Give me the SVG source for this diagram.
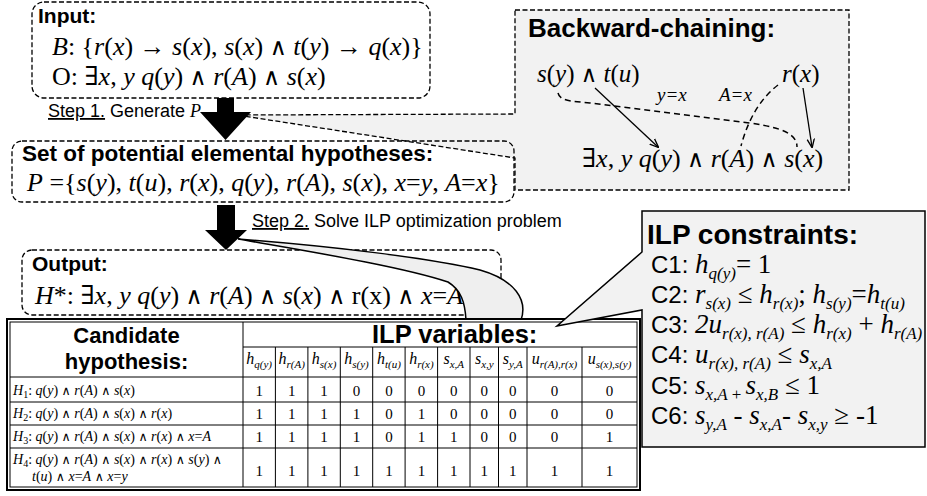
<svg xmlns="http://www.w3.org/2000/svg" width="927" height="496" viewBox="0 0 927 496">
<style>
.box{fill:none;stroke:#000;stroke-width:1.3;stroke-dasharray:5 2.5}
.sans{font-family:"Liberation Sans",Arial,sans-serif}
.b{font-family:"Liberation Sans",Arial,sans-serif;font-weight:bold}
.m{font-family:"Liberation Serif","Times New Roman","DejaVu Serif",serif}
.i{font-style:italic}
.n{font-style:normal}
.w{font-family:"DejaVu Serif",serif;font-size:0.9em;font-style:normal}
.s{font-size:17px;font-style:italic}
.hs{font-size:11px;font-style:italic}
.v{font-family:"Liberation Serif","Times New Roman",serif;font-size:15px;text-anchor:middle}
.hd{font-family:"Liberation Serif","Times New Roman",serif;font-size:16px;font-style:italic;text-anchor:middle}
.row{font-family:"Liberation Serif","Times New Roman","DejaVu Serif",serif;font-size:14px}
.tl{stroke:#000;stroke-width:1}
.dl{fill:none;stroke:#000;stroke-width:1.5;stroke-dasharray:6 4}
.sl{fill:none;stroke:#000;stroke-width:1.3}
</style>
<defs>
<marker id="ah" viewBox="0 0 10 10" refX="9" refY="5" markerWidth="9" markerHeight="9" orient="auto" markerUnits="userSpaceOnUse">
<path d="M0,1 L10,5 L0,9" fill="none" stroke="#000" stroke-width="1.5"/>
</marker>
</defs>
<rect width="927" height="496" fill="#fff"/>

<g id="backward">
<path d="M515,10 H849 V190 H515 V158 L237,115 L515,114 Z" fill="#f2f2f2" stroke="#000" stroke-width="1.3" stroke-dasharray="5 2.5"/>
<text x="528" y="37" class="b" font-size="26">Backward-chaining:</text>
<text x="537" y="82" class="m" font-size="25"><tspan class="i">s</tspan>(<tspan class="i">y</tspan>) <tspan class="w">∧</tspan> <tspan class="i">t</tspan>(<tspan class="i">u</tspan>)</text>
<text x="782" y="82" class="m" font-size="25"><tspan class="i">r</tspan>(<tspan class="i">x</tspan>)</text>
<text x="657" y="101" class="m i" font-size="19">y=x</text>
<text x="719" y="101" class="m i" font-size="19">A=x</text>
<text x="582" y="167" class="m" font-size="26">∃<tspan class="i">x</tspan>, <tspan class="i">y</tspan> <tspan class="i">q</tspan>(<tspan class="i">y</tspan>) <tspan class="w">∧</tspan> <tspan class="i">r</tspan>(<tspan class="i">A</tspan>) <tspan class="w">∧</tspan> <tspan class="i">s</tspan>(<tspan class="i">x</tspan>)</text>
<path class="dl" d="M558,93 C560,101 570,101 590,103 L750,123 C785,128 797,135 797,147"/>
<path class="dl" d="M778,85 Q752,105 741,146"/>
<path class="sl" d="M595,88 L658,147" marker-end="url(#ah)"/>
<path class="sl" d="M803,88 L812,147" marker-end="url(#ah)"/>
</g>

<g id="input">
<rect x="32" y="2" width="398" height="96" rx="12" class="box" style="fill:#fff"/>
<text x="38" y="23" class="b" font-size="21">Input:</text>
<text x="52" y="55" class="m" font-size="26"><tspan class="i">B</tspan>: {<tspan class="i">r</tspan>(<tspan class="i">x</tspan>) → <tspan class="i">s</tspan>(<tspan class="i">x</tspan>), <tspan class="i">s</tspan>(<tspan class="i">x</tspan>) <tspan class="w">∧</tspan> <tspan class="i">t</tspan>(<tspan class="i">y</tspan>) → <tspan class="i">q</tspan>(<tspan class="i">x</tspan>)}</text>
<text x="52" y="85" class="m" font-size="26">O: ∃<tspan class="i">x</tspan>, <tspan class="i">y</tspan> <tspan class="i">q</tspan>(<tspan class="i">y</tspan>) <tspan class="w">∧</tspan> <tspan class="i">r</tspan>(<tspan class="i">A</tspan>) <tspan class="w">∧</tspan> <tspan class="i">s</tspan>(<tspan class="i">x</tspan>)</text>
</g>

<g id="set">
<rect x="12" y="141" width="502" height="61" rx="10" class="box"/>
<text x="22" y="161" class="b" font-size="22.5">Set of potential elemental hypotheses:</text>
<text x="27" y="191" class="m" font-size="26"><tspan class="i">P</tspan> ={<tspan class="i">s</tspan>(<tspan class="i">y</tspan>), <tspan class="i">t</tspan>(<tspan class="i">u</tspan>), <tspan class="i">r</tspan>(<tspan class="i">x</tspan>), <tspan class="i">q</tspan>(<tspan class="i">y</tspan>), <tspan class="i">r</tspan>(<tspan class="i">A</tspan>), <tspan class="i">s</tspan>(<tspan class="i">x</tspan>), <tspan class="i">x</tspan>=<tspan class="i">y</tspan>, <tspan class="i">A</tspan>=<tspan class="i">x</tspan>}</text>
</g>

<g id="output">
<rect x="22" y="250" width="479" height="65" rx="10" class="box"/>
<text x="32" y="271" class="b" font-size="21">Output:</text>
<text x="35" y="304" class="m" font-size="26"><tspan class="i">H</tspan>*: ∃<tspan class="i">x</tspan>, <tspan class="i">y</tspan> <tspan class="i">q</tspan>(<tspan class="i">y</tspan>) <tspan class="w">∧</tspan> <tspan class="i">r</tspan>(<tspan class="i">A</tspan>) <tspan class="w">∧</tspan> <tspan class="i">s</tspan>(<tspan class="i">x</tspan>) <tspan class="w">∧</tspan> r(x) <tspan class="w">∧</tspan> <tspan class="i">x</tspan>=<tspan class="i">A</tspan></text>
<path d="M238,239 C330,246 430,258 480,270 C515,280 528,300 521,320 L466,320 C465,302 461,290 448,282 C400,266 300,250 238,239 Z" fill="#efefef" stroke="#000" stroke-width="1.5"/>
</g>

<g id="connectors">
<polygon points="217,98 234,98 234,112 251,112 225.5,140 200,112 217,112" fill="#000"/>
<polygon points="217,205 235,205 235,230 247,230 226,250 205,230 217,230" fill="#000"/>
<text x="48" y="117" class="sans" font-size="18"><tspan text-decoration="underline">Step 1.</tspan> Generate <tspan class="m i">P</tspan></text>
<text x="252" y="227" class="sans" font-size="18"><tspan text-decoration="underline">Step 2.</tspan> Solve ILP optimization problem</text>
</g>

<g id="table">
<rect x="7" y="319" width="633" height="171" fill="#fff" stroke="#000" stroke-width="2"/>
<rect x="10" y="322" width="627" height="165" fill="none" stroke="#000" stroke-width="1"/>
<path class="tl" d="M243,347 H637 M10,377 H637 M10,402 H637 M10,425 H637 M10,448 H637 M243,322 V487 M275.4,347 V487 M307.9,347 V487 M340.3,347 V487 M372.7,347 V487 M405.1,347 V487 M437.6,347 V487 M470,347 V487 M498.5,347 V487 M527,347 V487 M582,347 V487"/>
<text x="126.5" y="343" class="b" font-size="22" text-anchor="middle">Candidate</text>
<text x="126.5" y="369" class="b" font-size="22" text-anchor="middle">hypothesis:</text>
<text x="372" y="343" class="b" font-size="25.5">ILP variables:</text>
<text x="259.2" y="364" class="hd">h<tspan class="hs" dy="4">q(y)</tspan></text>
<text x="291.7" y="364" class="hd">h<tspan class="hs" dy="4">r(A)</tspan></text>
<text x="324.1" y="364" class="hd">h<tspan class="hs" dy="4">s(x)</tspan></text>
<text x="356.5" y="364" class="hd">h<tspan class="hs" dy="4">s(y)</tspan></text>
<text x="388.9" y="364" class="hd">h<tspan class="hs" dy="4">t(u)</tspan></text>
<text x="421.4" y="364" class="hd">h<tspan class="hs" dy="4">r(x)</tspan></text>
<text x="453.8" y="364" class="hd">s<tspan class="hs" dy="4">x,A</tspan></text>
<text x="484.3" y="364" class="hd">s<tspan class="hs" dy="4">x,y</tspan></text>
<text x="512.8" y="364" class="hd">s<tspan class="hs" dy="4">y,A</tspan></text>
<text x="554.5" y="364" class="hd">u<tspan class="hs" dy="4">r(A),r(x)</tspan></text>
<text x="609.5" y="364" class="hd">u<tspan class="hs" dy="4">s(x),s(y)</tspan></text>
<text x="13" y="395" class="row"><tspan class="i">H</tspan><tspan font-size="10" dy="3">1</tspan><tspan dy="-3">: <tspan class="i">q</tspan>(<tspan class="i">y</tspan>) <tspan class="w">∧</tspan> <tspan class="i">r</tspan>(<tspan class="i">A</tspan>) <tspan class="w">∧</tspan> <tspan class="i">s</tspan>(<tspan class="i">x</tspan>)</tspan></text>
<text x="13" y="418" class="row"><tspan class="i">H</tspan><tspan font-size="10" dy="3">2</tspan><tspan dy="-3">: <tspan class="i">q</tspan>(<tspan class="i">y</tspan>) <tspan class="w">∧</tspan> <tspan class="i">r</tspan>(<tspan class="i">A</tspan>) <tspan class="w">∧</tspan> <tspan class="i">s</tspan>(<tspan class="i">x</tspan>) <tspan class="w">∧</tspan> <tspan class="i">r</tspan>(<tspan class="i">x</tspan>)</tspan></text>
<text x="13" y="441" class="row"><tspan class="i">H</tspan><tspan font-size="10" dy="3">3</tspan><tspan dy="-3">: <tspan class="i">q</tspan>(<tspan class="i">y</tspan>) <tspan class="w">∧</tspan> <tspan class="i">r</tspan>(<tspan class="i">A</tspan>) <tspan class="w">∧</tspan> <tspan class="i">s</tspan>(<tspan class="i">x</tspan>) <tspan class="w">∧</tspan> <tspan class="i">r</tspan>(<tspan class="i">x</tspan>) <tspan class="w">∧</tspan> <tspan class="i">x</tspan>=<tspan class="i">A</tspan></tspan></text>
<text x="13" y="464" class="row"><tspan class="i">H</tspan><tspan font-size="10" dy="3">4</tspan><tspan dy="-3">: <tspan class="i">q</tspan>(<tspan class="i">y</tspan>) <tspan class="w">∧</tspan> <tspan class="i">r</tspan>(<tspan class="i">A</tspan>) <tspan class="w">∧</tspan> <tspan class="i">s</tspan>(<tspan class="i">x</tspan>) <tspan class="w">∧</tspan> <tspan class="i">r</tspan>(<tspan class="i">x</tspan>) <tspan class="w">∧</tspan> <tspan class="i">s</tspan>(<tspan class="i">y</tspan>) <tspan class="w">∧</tspan></tspan></text>
<text x="32" y="481" class="row"><tspan class="i">t</tspan>(<tspan class="i">u</tspan>) <tspan class="w">∧</tspan> <tspan class="i">x</tspan>=<tspan class="i">A</tspan> <tspan class="w">∧</tspan> <tspan class="i">x</tspan>=<tspan class="i">y</tspan></text>
<g class="v">
<text x="259.2" y="396">1</text><text x="291.7" y="396">1</text><text x="324.1" y="396">1</text><text x="356.5" y="396">0</text><text x="388.9" y="396">0</text><text x="421.4" y="396">0</text><text x="453.8" y="396">0</text><text x="484.3" y="396">0</text><text x="512.8" y="396">0</text><text x="554.5" y="396">0</text><text x="609.5" y="396">0</text>
<text x="259.2" y="419">1</text><text x="291.7" y="419">1</text><text x="324.1" y="419">1</text><text x="356.5" y="419">1</text><text x="388.9" y="419">0</text><text x="421.4" y="419">1</text><text x="453.8" y="419">0</text><text x="484.3" y="419">0</text><text x="512.8" y="419">0</text><text x="554.5" y="419">0</text><text x="609.5" y="419">0</text>
<text x="259.2" y="442">1</text><text x="291.7" y="442">1</text><text x="324.1" y="442">1</text><text x="356.5" y="442">1</text><text x="388.9" y="442">0</text><text x="421.4" y="442">1</text><text x="453.8" y="442">1</text><text x="484.3" y="442">0</text><text x="512.8" y="442">0</text><text x="554.5" y="442">0</text><text x="609.5" y="442">1</text>
<text x="259.2" y="476">1</text><text x="291.7" y="476">1</text><text x="324.1" y="476">1</text><text x="356.5" y="476">1</text><text x="388.9" y="476">1</text><text x="421.4" y="476">1</text><text x="453.8" y="476">1</text><text x="484.3" y="476">1</text><text x="512.8" y="476">1</text><text x="554.5" y="476">1</text><text x="609.5" y="476">1</text>
</g>
</g>

<g id="constraints">
<path d="M642,211 H925 V447 H642 V310 L557,326 L642,252 Z" fill="#f2f2f2" stroke="#000" stroke-width="1.5"/>
<text x="647" y="244" class="b" font-size="28">ILP constraints:</text>
<text x="651" y="273" class="m" font-size="27"><tspan class="sans" font-size="24">C1: </tspan><tspan class="i">h</tspan><tspan class="s" dy="6">q(y)</tspan><tspan dy="-6">= 1</tspan></text>
<text x="651" y="303" class="m" font-size="27"><tspan class="sans" font-size="24">C2: </tspan><tspan class="i">r</tspan><tspan class="s" dy="6">s(x)</tspan><tspan dy="-6"> ≤ </tspan><tspan class="i">h</tspan><tspan class="s" dy="6">r(x)</tspan><tspan dy="-6">; </tspan><tspan class="i">h</tspan><tspan class="s" dy="6">s(y)</tspan><tspan dy="-6">=</tspan><tspan class="i">h</tspan><tspan class="s" dy="6">t(u)</tspan></text>
<text x="651" y="333" class="m" font-size="27"><tspan class="sans" font-size="24">C3: </tspan><tspan class="i">2u</tspan><tspan class="s" dy="6">r(x), r(A)</tspan><tspan dy="-6"> ≤ </tspan><tspan class="i">h</tspan><tspan class="s" dy="6">r(x)</tspan><tspan dy="-6"> + </tspan><tspan class="i">h</tspan><tspan class="s" dy="6">r(A)</tspan></text>
<text x="651" y="363" class="m" font-size="27"><tspan class="sans" font-size="24">C4: </tspan><tspan class="i">u</tspan><tspan class="s" dy="6">r(x), r(A)</tspan><tspan dy="-6"> ≤ </tspan><tspan class="i">s</tspan><tspan class="s" dy="6">x,A</tspan></text>
<text x="651" y="394" class="m" font-size="27"><tspan class="sans" font-size="24">C5: </tspan><tspan class="i">s</tspan><tspan class="s" dy="6">x,A <tspan class="n">+</tspan> </tspan><tspan class="i" dy="-6">s</tspan><tspan class="s" dy="6">x,B</tspan><tspan dy="-6"> ≤ 1</tspan></text>
<text x="651" y="424" class="m" font-size="27"><tspan class="sans" font-size="24">C6: </tspan><tspan class="i">s</tspan><tspan class="s" dy="6">y,A</tspan><tspan dy="-6">  - </tspan><tspan class="i">s</tspan><tspan class="s" dy="6">x,A</tspan><tspan dy="-6">- </tspan><tspan class="i">s</tspan><tspan class="s" dy="6">x,y</tspan><tspan dy="-6"> ≥ -1</tspan></text>
</g>
</svg>
